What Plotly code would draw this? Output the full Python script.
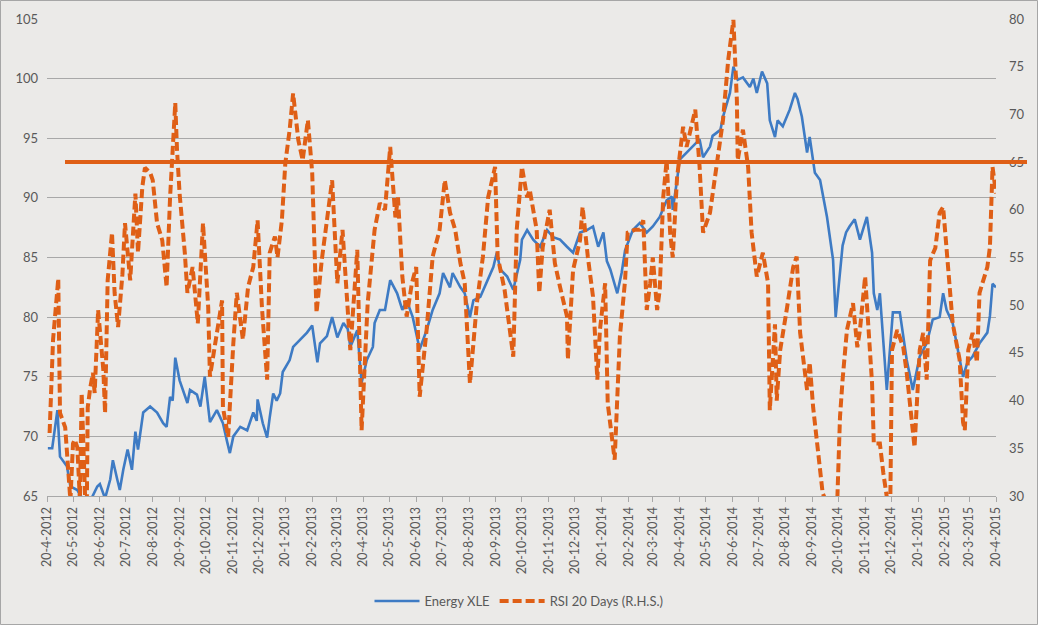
import pandas as pd
import plotly.graph_objects as go

# Energy XLE price (left axis)
xle_dates = [
    "2012-04-21", "2012-04-26", "2012-05-02", "2012-05-05", "2012-05-13", "2012-05-17", "2012-05-25",
    "2012-06-01", "2012-06-09", "2012-06-17", "2012-06-20", "2012-06-26", "2012-07-02", "2012-07-05",
    "2012-07-10", "2012-07-13", "2012-07-17", "2012-07-22", "2012-07-27", "2012-07-31", "2012-08-03",
    "2012-08-09", "2012-08-17", "2012-08-25", "2012-09-01", "2012-09-05", "2012-09-09", "2012-09-12",
    "2012-09-15", "2012-09-20", "2012-09-29", "2012-10-02", "2012-10-10", "2012-10-14", "2012-10-19",
    "2012-10-25", "2012-11-02", "2012-11-09", "2012-11-14", "2012-11-17", "2012-11-21", "2012-11-29",
    "2012-12-07", "2012-12-14", "2012-12-18", "2012-12-19", "2012-12-25", "2012-12-30", "2013-01-02",
    "2013-01-06", "2013-01-10", "2013-01-14", "2013-01-17", "2013-01-25", "2013-01-29", "2013-02-06",
    "2013-02-14", "2013-02-20", "2013-02-26", "2013-03-01", "2013-03-09", "2013-03-15", "2013-03-21",
    "2013-03-28", "2013-04-02", "2013-04-05", "2013-04-13", "2013-04-18", "2013-04-24", "2013-05-01",
    "2013-05-03", "2013-05-09", "2013-05-15", "2013-05-21", "2013-05-29", "2013-06-04", "2013-06-09",
    "2013-06-16", "2013-06-24", "2013-07-02", "2013-07-09", "2013-07-17", "2013-07-21", "2013-07-29",
    "2013-08-01", "2013-08-10", "2013-08-15", "2013-08-21", "2013-08-25", "2013-09-02", "2013-09-10",
    "2013-09-17", "2013-09-21", "2013-09-25", "2013-10-03", "2013-10-10", "2013-10-18", "2013-10-20",
    "2013-10-26", "2013-11-02", "2013-11-10", "2013-11-18", "2013-11-25", "2013-12-03", "2013-12-11",
    "2013-12-18", "2013-12-26", "2014-01-03", "2014-01-10", "2014-01-16", "2014-01-22", "2014-01-26",
    "2014-01-30", "2014-02-07", "2014-02-12", "2014-02-16", "2014-02-25", "2014-03-05", "2014-03-13",
    "2014-03-20", "2014-03-28", "2014-04-05", "2014-04-11", "2014-04-12", "2014-04-17", "2014-04-20",
    "2014-04-28", "2014-05-05", "2014-05-13", "2014-05-17", "2014-05-25", "2014-05-28", "2014-06-06",
    "2014-06-09", "2014-06-14", "2014-06-17", "2014-06-21", "2014-06-26", "2014-07-02", "2014-07-10",
    "2014-07-14", "2014-07-18", "2014-07-24", "2014-07-30", "2014-08-02", "2014-08-08", "2014-08-11",
    "2014-08-17", "2014-08-25", "2014-08-31", "2014-09-03", "2014-09-08", "2014-09-14", "2014-09-17",
    "2014-09-23", "2014-09-29", "2014-10-07", "2014-10-14", "2014-10-17", "2014-10-22", "2014-10-25",
    "2014-10-29", "2014-11-02", "2014-11-08", "2014-11-14", "2014-11-22", "2014-11-28", "2014-11-30",
    "2014-12-04", "2014-12-07", "2014-12-15", "2014-12-22", "2014-12-30", "2015-01-07", "2015-01-14",
    "2015-01-22", "2015-01-30", "2015-02-06", "2015-02-14", "2015-02-18", "2015-02-22", "2015-03-01",
    "2015-03-09", "2015-03-13", "2015-03-18", "2015-03-24", "2015-04-01", "2015-04-10", "2015-04-13",
    "2015-04-16", "2015-04-20",
]
xle_values = [
    69.0, 69.0, 72.2, 68.3, 67.5, 65.8, 65.5,
    64.6, 64.6, 65.8, 66.0, 64.8, 66.4, 68.0,
    66.4, 65.5, 67.2, 68.9, 67.2, 70.4, 68.9,
    72.0, 72.5, 72.0, 71.1, 70.8, 73.3, 73.0,
    76.6, 74.7, 72.8, 73.9, 73.5, 72.5, 75.0,
    71.2, 72.2, 71.1, 69.5, 68.6, 70.0, 70.8,
    70.5, 72.0, 71.3, 73.1, 71.1, 69.9, 71.6,
    73.6, 73.0, 73.6, 75.4, 76.4, 77.5, 78.1,
    78.7, 79.3, 76.2, 77.8, 78.4, 80.0, 78.3,
    79.5, 79.0, 77.5, 78.9, 74.5, 76.4, 77.5,
    79.5, 80.6, 80.6, 83.1, 82.0, 80.6, 81.4,
    80.0, 77.3, 78.9, 80.6, 82.0, 83.7, 82.5,
    83.7, 82.5, 82.0, 80.0, 81.4, 81.7, 83.1,
    84.2, 85.4, 84.0, 83.4, 82.3, 84.8, 86.5,
    87.3, 86.5, 85.9, 87.3, 86.7, 86.5, 85.9,
    85.4, 87.1, 87.3, 87.6, 85.9, 87.1, 84.7,
    84.0, 82.0, 83.7, 85.6, 87.3, 87.9, 87.1,
    87.6, 88.4, 89.8, 90.1, 89.0, 91.5, 93.2,
    93.8, 94.3, 94.9, 93.4, 94.3, 95.2, 95.7,
    96.8, 98.2, 98.8, 101.0, 99.9, 100.1, 99.3,
    100.0, 98.8, 100.6, 99.6, 96.5, 95.1, 96.5,
    96.0, 97.4, 98.8, 98.3, 96.8, 93.8, 95.1,
    92.1, 91.5, 88.4, 84.8, 80.0, 83.4, 86.0,
    87.1, 87.6, 88.2, 86.5, 88.4, 85.4, 82.0,
    80.6, 82.0, 73.9, 80.4, 80.4, 76.4, 73.9,
    76.7, 77.8, 79.8, 80.0, 82.0, 80.6, 79.5,
    76.4, 75.0, 76.2, 76.7, 77.8, 78.7, 80.1,
    82.8, 82.5,
]

# RSI 20 days (right axis)
rsi_dates = [
    "2012-04-23", "2012-04-27", "2012-05-03", "2012-05-05", "2012-05-11", "2012-05-13", "2012-05-17",
    "2012-05-20", "2012-05-22", "2012-05-25", "2012-05-28", "2012-05-30", "2012-06-03", "2012-06-05",
    "2012-06-06", "2012-06-09", "2012-06-12", "2012-06-14", "2012-06-18", "2012-06-24", "2012-06-26",
    "2012-06-29", "2012-07-04", "2012-07-07", "2012-07-11", "2012-07-16", "2012-07-19", "2012-07-25",
    "2012-07-31", "2012-08-03", "2012-08-08", "2012-08-11", "2012-08-17", "2012-08-20", "2012-08-25",
    "2012-08-31", "2012-09-05", "2012-09-09", "2012-09-15", "2012-09-17", "2012-09-20", "2012-09-26",
    "2012-09-29", "2012-10-05", "2012-10-11", "2012-10-17", "2012-10-23", "2012-10-25", "2012-11-02",
    "2012-11-08", "2012-11-09", "2012-11-15", "2012-11-21", "2012-11-25", "2012-12-02", "2012-12-08",
    "2012-12-14", "2012-12-19", "2012-12-24", "2012-12-30", "2013-01-02", "2013-01-08", "2013-01-11",
    "2013-01-16", "2013-01-20", "2013-01-25", "2013-01-29", "2013-02-04", "2013-02-09", "2013-02-15",
    "2013-02-20", "2013-02-25", "2013-03-03", "2013-03-09", "2013-03-15", "2013-03-21", "2013-03-27",
    "2013-04-05", "2013-04-13", "2013-04-18", "2013-04-25", "2013-05-03", "2013-05-09", "2013-05-15",
    "2013-05-21", "2013-05-27", "2013-05-30", "2013-06-04", "2013-06-09", "2013-06-15", "2013-06-20",
    "2013-06-24", "2013-07-02", "2013-07-09", "2013-07-17", "2013-07-23", "2013-07-29", "2013-08-04",
    "2013-08-10", "2013-08-15", "2013-08-21", "2013-08-29", "2013-09-05", "2013-09-11", "2013-09-19",
    "2013-09-22", "2013-09-30", "2013-10-10", "2013-10-14", "2013-10-20", "2013-10-26", "2013-10-29",
    "2013-11-06", "2013-11-09", "2013-11-13", "2013-11-21", "2013-11-27", "2013-12-03", "2013-12-11",
    "2013-12-12", "2013-12-18", "2013-12-26", "2013-12-29", "2014-01-04", "2014-01-10", "2014-01-15",
    "2014-01-18", "2014-01-24", "2014-01-27", "2014-02-04", "2014-02-10", "2014-02-16", "2014-02-19",
    "2014-02-27", "2014-03-05", "2014-03-09", "2014-03-13", "2014-03-17", "2014-03-20", "2014-03-25",
    "2014-03-28", "2014-04-01", "2014-04-05", "2014-04-09", "2014-04-12", "2014-04-17", "2014-04-24",
    "2014-04-28", "2014-05-08", "2014-05-13", "2014-05-17", "2014-05-25", "2014-06-02", "2014-06-09",
    "2014-06-15", "2014-06-21", "2014-06-25", "2014-06-26", "2014-07-02", "2014-07-08", "2014-07-12",
    "2014-07-18", "2014-07-25", "2014-07-31", "2014-08-02", "2014-08-08", "2014-08-10", "2014-08-14",
    "2014-08-22", "2014-08-29", "2014-09-02", "2014-09-06", "2014-09-14", "2014-09-17", "2014-09-21",
    "2014-09-25", "2014-09-29", "2014-10-02", "2014-10-08", "2014-10-14", "2014-10-19", "2014-10-22",
    "2014-10-25", "2014-10-30", "2014-11-06", "2014-11-11", "2014-11-14", "2014-11-20", "2014-11-23",
    "2014-11-28", "2014-11-30", "2014-12-07", "2014-12-11", "2014-12-15", "2014-12-19", "2014-12-21",
    "2014-12-27", "2015-01-03", "2015-01-07", "2015-01-11", "2015-01-16", "2015-01-22", "2015-01-26",
    "2015-01-30", "2015-02-03", "2015-02-09", "2015-02-14", "2015-02-18", "2015-02-22", "2015-03-01",
    "2015-03-09", "2015-03-13", "2015-03-15", "2015-03-19", "2015-03-24", "2015-03-29", "2015-04-01",
    "2015-04-10", "2015-04-13", "2015-04-16", "2015-04-20",
]
rsi_values = [
    36.6, 46.4, 52.8, 38.7, 37.2, 34.8, 29.5,
    35.5, 35.9, 35.1, 29.5, 40.8, 29.8, 29.5,
    39.3, 41.4, 42.9, 40.8, 49.5, 43.2, 38.7,
    52.6, 57.6, 51.3, 47.7, 53.2, 58.6, 52.6,
    61.7, 55.5, 62.4, 64.4, 63.9, 63.1, 58.6,
    56.8, 51.9, 61.3, 71.2, 66.3, 61.7, 55.5,
    51.3, 54.0, 48.1, 58.6, 49.8, 42.5, 47.1,
    50.5, 39.3, 36.2, 46.0, 51.3, 46.4, 51.9,
    54.0, 58.9, 49.8, 42.2, 55.5, 57.2, 55.0,
    58.9, 64.9, 68.4, 72.2, 67.3, 65.2, 69.4,
    63.9, 49.2, 54.7, 59.2, 63.1, 52.3, 57.9,
    45.3, 55.8, 36.9, 50.2, 57.9, 60.7, 60.0,
    66.6, 59.2, 61.3, 53.0, 48.8, 52.3, 54.0,
    40.4, 47.4, 55.1, 57.9, 63.1, 59.7, 57.9,
    54.4, 52.3, 41.8, 50.2, 55.1, 61.3, 64.5,
    55.1, 51.6, 44.6, 57.9, 64.5, 61.3, 62.1,
    57.9, 51.3, 56.1, 60.0, 54.4, 51.9, 48.8,
    44.3, 53.7, 56.8, 60.3, 55.1, 50.9, 42.2,
    47.4, 52.3, 39.7, 33.8, 46.7, 52.6, 57.6,
    57.9, 57.9, 58.9, 49.5, 52.3, 55.0, 49.5,
    51.6, 61.3, 65.2, 57.6, 55.0, 63.4, 68.7,
    66.6, 70.5, 64.5, 57.6, 59.7, 65.2, 69.4,
    75.7, 79.9, 71.5, 65.2, 68.4, 64.5, 57.6,
    53.0, 55.5, 52.3, 39.0, 48.0, 40.0, 45.3,
    49.8, 54.0, 55.1, 47.1, 41.1, 44.0, 39.3,
    35.9, 32.0, 30.3, 29.0, 29.0, 29.9, 38.3,
    42.2, 47.4, 50.2, 45.6, 47.4, 53.0, 48.8,
    41.8, 35.5, 35.5, 32.4, 29.9, 29.0, 45.3,
    47.4, 45.6, 42.9, 39.0, 35.1, 45.3, 47.1,
    42.2, 54.7, 56.0, 59.7, 60.3, 55.8, 48.1,
    44.3, 37.7, 36.9, 45.3, 47.1, 44.0, 51.3,
    54.0, 56.1, 64.5, 61.7,
]

rsi_threshold = 65

tick_dates = [pd.Timestamp(2012 + (3 + i) // 12, (3 + i) % 12 + 1, 20) for i in range(37)]
tick_labels = [f"{d.day}-{d.month}-{d.year}" for d in tick_dates]

BLUE = "#3E7BC4"
ORANGE = "#DF5F16"
TEXT = "#595959"
GRID = "#A8A8A8"
BG = "#EBEAE8"
FONT = "Lato, Carlito, Calibri, sans-serif"

# plot area geometry in pixels (used for shapes drawn outside the axes)
W, H = 1038, 625
ML, MR, MT, MB = 47, 42, 19, 129
PW, PH = W - ML - MR, H - MT - MB

fig = go.Figure()
fig.add_trace(go.Scatter(
    x=xle_dates, y=xle_values, name="Energy XLE", mode="lines",
    line=dict(color=BLUE, width=2.6), yaxis="y",
))
fig.add_trace(go.Scatter(
    x=rsi_dates, y=rsi_values, name="RSI 20 Days (R.H.S.)", mode="lines",
    line=dict(color=ORANGE, width=4, dash="9px,4px"), yaxis="y2",
))

# overbought line at RSI 65, runs a bit past the right edge like the original
fig.add_shape(
    type="line", xref="paper", yref="y2",
    x0=18 / PW, x1=1 + 31 / PW, y0=rsi_threshold, y1=rsi_threshold,
    line=dict(color=ORANGE, width=4),
)
# outer border of the chart
fig.add_shape(
    type="rect", xref="paper", yref="paper",
    x0=-(ML - 0.5) / PW, x1=1 + (MR - 0.5) / PW,
    y0=-(MB - 0.5) / PH, y1=1 + (MT - 0.5) / PH,
    line=dict(color="#A6A6A6", width=1),
)

fig.update_layout(
    width=W, height=H,
    margin=dict(l=ML, r=MR, t=MT, b=MB, autoexpand=False),
    paper_bgcolor=BG, plot_bgcolor=BG,
    font=dict(family=FONT, color=TEXT, size=13),
    showlegend=True,
    legend=dict(
        orientation="h", x=(W / 2 - ML) / PW, xanchor="center",
        y=-105 / PH, yanchor="middle",
        bgcolor="rgba(0,0,0,0)", font=dict(size=13, color=TEXT),
        itemwidth=45,
    ),
    xaxis=dict(
        type="date", range=[tick_dates[0], tick_dates[-1]],
        tickmode="array", tickvals=tick_dates, ticktext=tick_labels,
        tickangle=-90, tickfont=dict(size=12.5),
        showgrid=False, zeroline=False, automargin=False,
        showline=True, linecolor=GRID, linewidth=1,
        ticks="outside", ticklen=5, tickcolor=GRID,
    ),
    yaxis=dict(
        range=[65, 105], dtick=5, tick0=65, automargin=False,
        showgrid=True, gridcolor=GRID, gridwidth=1,
        zeroline=False, showline=False, ticks="",
        ticklabelstandoff=8, tickfont=dict(size=13),
    ),
    yaxis2=dict(
        range=[30, 80], dtick=5, tick0=30, automargin=False,
        overlaying="y", side="right",
        showgrid=False, zeroline=False, showline=False, ticks="",
        ticklabelstandoff=12, tickfont=dict(size=13),
    ),
)

# the page's default body margin would push the figure 8px in
fig.write_html(
    "out.html",
    config={"displayModeBar": False},
    post_script="document.body.style.margin = '0';",
)
